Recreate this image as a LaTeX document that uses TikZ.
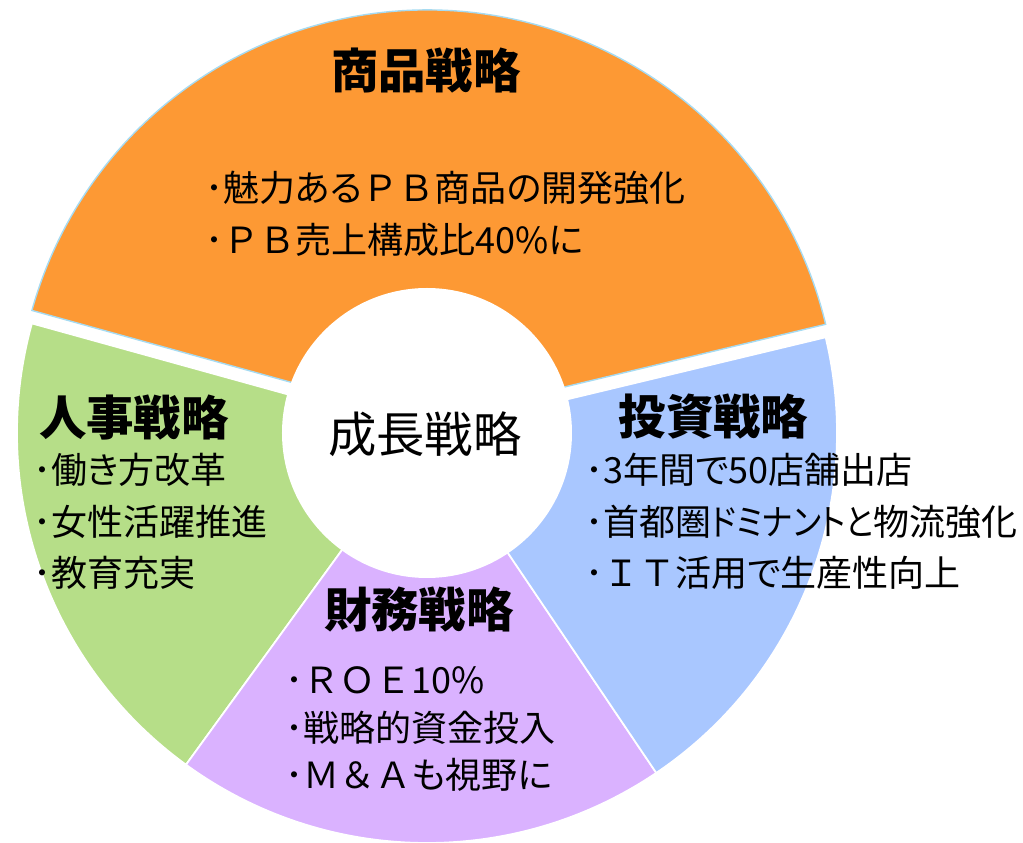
\documentclass[tikz,border=0pt]{standalone}
\usepackage{fontspec}
\setmainfont{Noto Sans CJK JP}[RawFeature=+palt]
\newfontfamily\fw{Noto Sans CJK JP}
\newfontfamily\narrowkana{Noto Sans CJK JP}[RawFeature=+palt, FakeStretch=0.88]
\definecolor{orangeseg}{HTML}{FD9934}
\definecolor{greenseg}{HTML}{B6DE88}
\definecolor{blueseg}{HTML}{A9C7FF}
\definecolor{purpleseg}{HTML}{DAB2FF}
\definecolor{rimblue}{HTML}{A6DBF2}

\begin{document}
\begin{tikzpicture}[
    title/.style={font=\bfseries\fontsize{27}{32}\selectfont, inner sep=0},
    item/.style={anchor=west, inner sep=0, font=\fontsize{20.5}{24}\selectfont}
]
    \useasboundingbox (-8.54,-8.2) rectangle (11.92,8.66);

    % the orange piece is pulled out a little
    \filldraw[fill=orangeseg, draw=rimblue, line width=0.8pt] (0,0.26) -- ++(13.5:8.2) arc (13.5:164.5:8.2) -- cycle;
    \filldraw[fill=greenseg, draw=white, line width=1pt] (0,0) -- (164.5:8.2) arc (164.5:234:8.2) -- cycle;
    \filldraw[fill=purpleseg, draw=white, line width=1pt] (0,0) -- (234:8.2) arc (234:304:8.2) -- cycle;
    \filldraw[fill=blueseg, draw=white, line width=1pt] (0,0) -- (304:8.2) arc (304:373.5:8.2) -- cycle;
    \fill[white] (0,0) circle (2.9);

    \path node[font=\fontsize{27.5}{32}\selectfont, inner sep=0] (seicho) at (-0.04,-0.02) {成長戦略};

    \path node[title] (shohin) at (-0.02,7.24) {商品戦略};
    \foreach \t [count=\i] in {･魅力ある{\fw ＰＢ}商品の開発強化, ･{\fw ＰＢ}売上構成比40\%に}
    {
        \path node[item] (shohin\i) at (-4.44,{4.90-1.04*(\i-1)}) {\t};
    }

    \path node[title] (jinji) at (-5.86,0.30) {人事戦略};
    \foreach \t [count=\i] in {･働き方改革, ･女性活躍推進, ･教育充実}
    {
        \path node[item] (jinji\i) at (-7.88,{-0.74-1.03*(\i-1)}) {\t};
    }

    \path node[title] (toshi) at (5.73,0.32) {投資戦略};
    \foreach \t [count=\i] in {･3年間で50店舗出店, ･首都圏{\narrowkana ドミナントと}物流強化, ･{\fw ＩＴ}活用で生産性向上}
    {
        \path node[item] (toshi\i) at (3.16,{-0.74-1.03*(\i-1)}) {\t};
    }

    \path node[title] (zaimu) at (-0.16,-3.54) {財務戦略};
    \foreach \t [count=\i] in {･{\fw ＲＯＥ}10\%, ･戦略的資金投入, ･{\fw Ｍ＆Ａ}も視野に}
    {
        \path node[item] (zaimu\i) at (-2.84,{-4.94-0.95*(\i-1)}) {\t};
    }
\end{tikzpicture}
\end{document}
